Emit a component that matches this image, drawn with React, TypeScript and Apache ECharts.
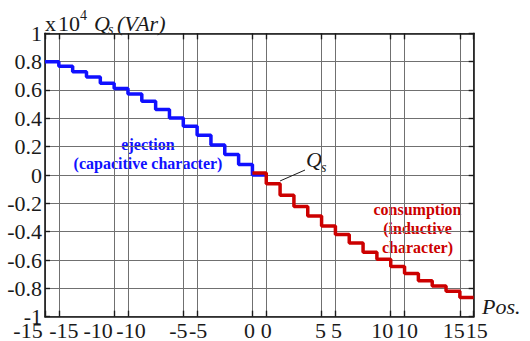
import { useEffect, useRef } from "react";
import * as echarts from "echarts";

// Position axis: 31 steps laid out on 0..31, ticks labelled with the position value
const tickPositions = [0, 1, 5, 6, 10, 11, 15, 16, 20, 21, 25, 26, 30, 31];
const tickLabels = ["-15", "-15", "-10", "-10", "-5", "-5", "0", "0", "5", "5", "10", "10", "15", "15"];

// Q_s per step (x 10^4 VAr)
const ejectionStart = 0;
const ejectionValues = [0.8, 0.768, 0.728, 0.692, 0.648, 0.61, 0.572, 0.52, 0.462, 0.403, 0.344, 0.28, 0.212, 0.144, 0.074, 0.0];
const consumptionStart = 15;
const consumptionValues = [0.014, -0.062, -0.143, -0.222, -0.29, -0.36, -0.42, -0.48, -0.545, -0.595, -0.645, -0.695, -0.746, -0.783, -0.82, -0.864];

// Leader line from the curve to the Q_s tag, in data coordinates
const leaderFrom = [17.0, -0.042];
const leaderTo = [18.8, 0.035];

// Horizontal nudges so paired tick labels sit side by side
const labelShift = [-17, 5, -16, 3, -5, 1, -3, 0, -1, 1, -8.5, 2.5, -6, 3];

const SERIF = "Times New Roman";
const BLUE = "#1010ff";
const RED = "#cc0000";
const GRID = "#707070";
const INK = "#1a1a1a";

function stepPoints(start: number, values: number[]) {
  const pts = values.map((v, i) => [start + i, v]);
  pts.push([start + values.length, values[values.length - 1]]);
  return pts;
}

function txt(text: string, left: number, top: number, size: number, italic = false) {
  return {
    type: "text",
    left,
    top,
    style: {
      text,
      font: `${italic ? "italic " : ""}${size}px ${SERIF}`,
      fill: INK,
    },
  };
}

export default function App() {
  const ref = useRef<HTMLDivElement>(null);

  useEffect(() => {
    if (!ref.current) return;
    const chart = echarts.init(ref.current, undefined, { renderer: "svg" });

    const rich: Record<string, any> = {};
    labelShift.forEach((d, i) => {
      rich["s" + i] = {
        fontFamily: SERIF,
        fontSize: 22,
        color: INK,
        padding: d < 0 ? [0, -2 * d, 0, 0] : [0, 0, 0, 2 * d],
      };
    });

    const xBase = {
      type: "value" as const,
      min: 0,
      max: 31,
      interval: 1,
      axisLine: { show: true, onZero: false, lineStyle: { color: INK, width: 1.6 } },
      axisTick: {
        show: true,
        inside: true,
        length: 6,
        customValues: tickPositions,
        lineStyle: { color: INK, width: 1.4 },
      },
    };

    const yBase = {
      type: "value" as const,
      min: -1,
      max: 1,
      interval: 0.2,
      axisLine: { show: true, onZero: false, lineStyle: { color: INK, width: 1.6 } },
      axisTick: { show: true, inside: true, length: 5, lineStyle: { color: INK, width: 1.4 } },
    };

    chart.setOption({
      animation: false,
      backgroundColor: "#ffffff",
      textStyle: { fontFamily: SERIF },
      grid: {
        left: 45,
        right: 56.3,
        top: 33.3,
        bottom: 24.3,
        containLabel: false,
        outerBoundsMode: "none",
      },
      xAxis: [
        {
          ...xBase,
          position: "bottom",
          axisLabel: {
            show: true,
            customValues: tickPositions,
            margin: 3,
            hideOverlap: false,
            fontFamily: SERIF,
            fontSize: 22,
            formatter: (val: number) => {
              const i = tickPositions.indexOf(Math.round(val));
              return i < 0 ? "" : `{s${i}|${tickLabels[i]}}`;
            },
            rich,
          },
          splitLine: { show: true, lineStyle: { color: GRID, width: 1 } },
        },
        {
          ...xBase,
          position: "top",
          axisLabel: { show: false, customValues: tickPositions },
          splitLine: { show: false },
        },
      ],
      yAxis: [
        {
          ...yBase,
          position: "left",
          axisLabel: {
            fontFamily: SERIF,
            fontSize: 22,
            color: INK,
            margin: 3,
          },
          splitLine: { show: true, lineStyle: { color: GRID, width: 1 } },
        },
        {
          ...yBase,
          position: "right",
          axisLabel: { show: false },
          splitLine: { show: false },
        },
      ],
      series: [
        {
          name: "ejection",
          type: "line",
          step: "end",
          data: stepPoints(ejectionStart, ejectionValues),
          showSymbol: false,
          lineStyle: { color: BLUE, width: 3.5 },
          z: 3,
        },
        {
          name: "consumption",
          type: "line",
          step: "end",
          data: stepPoints(consumptionStart, consumptionValues),
          showSymbol: false,
          lineStyle: { color: RED, width: 3.5 },
          z: 3,
          markLine: {
            silent: true,
            symbol: ["none", "none"],
            label: { show: false },
            lineStyle: { color: INK, width: 1, type: "solid" },
            data: [[{ coord: leaderFrom }, { coord: leaderTo }]],
          },
        },
      ],
      graphic: [
        // axis caption: x 10^4 Q_s (VAr)
        txt("x", 45, 12, 22),
        txt("10", 58, 12, 22),
        txt("4", 80, 8, 14),
        txt("Q", 94, 12, 22, true),
        txt("s", 108, 22, 14, true),
        txt("(VAr)", 117, 12, 22, true),
        // position axis caption
        txt("Pos.", 482, 295, 22, true),
        // curve tag
        txt("Q", 306, 148, 22, true),
        txt("s", 321, 160, 14, true),
        // region notes
        {
          type: "text",
          x: 148,
          y: 154,
          style: {
            text: "ejection\n(capacitive character)",
            font: `bold 16px ${SERIF}`,
            fill: BLUE,
            align: "center",
            verticalAlign: "middle",
            lineHeight: 19,
          },
        },
        {
          type: "text",
          x: 417.5,
          y: 228,
          style: {
            text: "consumption\n(inductive\ncharacter)",
            font: `bold 16px ${SERIF}`,
            fill: RED,
            align: "center",
            verticalAlign: "middle",
            lineHeight: 19,
          },
        },
      ],
    });

    return () => chart.dispose();
  }, []);

  return (
    <div
      ref={ref}
      style={{ position: "fixed", left: 0, top: 0, width: 530, height: 341 }}
    />
  );
}
